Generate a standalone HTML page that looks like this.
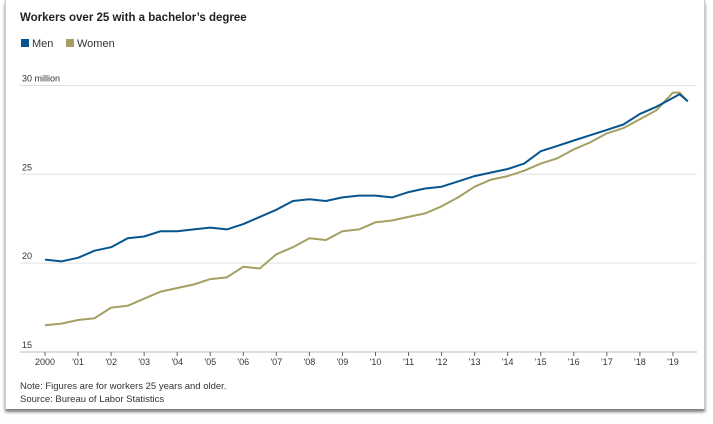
<!DOCTYPE html>
<html><head><meta charset="utf-8"><style>
body{margin:0;background:#fff;font-family:"Liberation Sans",sans-serif;}
#card{position:absolute;left:5px;top:0;width:698px;height:409px;border-left:1px solid #ccc;border-right:1px solid #ccc;box-shadow:0 3px 3px #777;background:#fff;}
svg{position:absolute;left:0;top:0}
</style></head><body>
<div id="card"></div>
<svg id="c" width="713" height="424">
<text x="20" y="21" font-size="11.5" font-weight="bold" fill="#222">Workers over 25 with a bachelor’s degree</text>
<g>
<rect x="21" y="39" width="8" height="8" fill="#06558f"/>
<text x="32" y="47" font-size="11" fill="#333">Men</text>
<rect x="66" y="39" width="8" height="8" fill="#a59f64"/>
<text x="77" y="47" font-size="11" fill="#333">Women</text>
</g>
<text x="20" y="389" font-size="9.5" fill="#333">Note: Figures are for workers 25 years and older.</text>
<text x="20" y="402" font-size="9.5" fill="#333">Source: Bureau of Labor Statistics</text>
</svg>
<script>
const yTicks=[15,20,25,30];
const yLabels=["15","20","25","30 million"];
const xYears=[2000,2001,2002,2003,2004,2005,2006,2007,2008,2009,2010,2011,2012,2013,2014,2015,2016,2017,2018,2019];
const xLabels=["2000","'01","'02","'03","'04","'05","'06","'07","'08","'09","'10","'11","'12","'13","'14","'15","'16","'17","'18","'19"];
const times=[2000,2000.5,2001,2001.5,2002,2002.5,2003,2003.5,2004,2004.5,2005,2005.5,2006,2006.5,2007,2007.5,2008,2008.5,2009,2009.5,2010,2010.5,2011,2011.5,2012,2012.5,2013,2013.5,2014,2014.5,2015,2015.5,2016,2016.5,2017,2017.5,2018,2018.5,2019,2019.2,2019.45];
const men=[20.2,20.1,20.3,20.7,20.9,21.4,21.5,21.8,21.8,21.9,22.0,21.9,22.2,22.6,23.0,23.5,23.6,23.5,23.7,23.8,23.8,23.7,24.0,24.2,24.3,24.6,24.9,25.1,25.3,25.6,26.3,26.6,26.9,27.2,27.5,27.8,28.4,28.8,29.3,29.5,29.1];
const women=[16.5,16.6,16.8,16.9,17.5,17.6,18.0,18.4,18.6,18.8,19.1,19.2,19.8,19.7,20.5,20.9,21.4,21.3,21.8,21.9,22.3,22.4,22.6,22.8,23.2,23.7,24.3,24.7,24.9,25.2,25.6,25.9,26.4,26.8,27.3,27.6,28.1,28.6,29.6,29.6,29.1];
const svg=document.getElementById('c');const NS='http://www.w3.org/2000/svg';
const X=t=>45+(t-2000)*33.05, Y=v=>352-(v-15)*17.77;
function mk(tag,attrs){const e=document.createElementNS(NS,tag);for(const k in attrs)e.setAttribute(k,attrs[k]);svg.appendChild(e);return e;}
yTicks.forEach((v,i)=>{
 const l=mk('line',{x1:20,x2:697,y1:Y(v),y2:Y(v),stroke:v===15?'#bbb':'#e2e2e2','stroke-width':1});
 
 
 const t=mk('text',{x:22,y:Y(v)-4,'font-size':9,fill:'#333'});t.textContent=yLabels[i];
 
 
});
xYears.forEach((yr,i)=>{
 const tk=mk('line',{x1:X(yr),x2:X(yr),y1:352,y2:356,stroke:'#666'});
 
 
 const t=mk('text',{x:X(yr),y:365,'font-size':9,fill:'#333','text-anchor':'middle'});t.textContent=xLabels[i];
 
 
});
function line(vals,color,name){
 const d=vals.map((v,i)=>(i?'L':'M')+X(times[i]).toFixed(1)+','+Y(v).toFixed(1)).join('');
 const p=mk('path',{d:d,fill:'none',stroke:color,'stroke-width':2,'stroke-linejoin':'round'});
 
 
}
line(women,'#a59f64','women-line');
line(men,'#06558f','men-line');
</script>
</body></html>
